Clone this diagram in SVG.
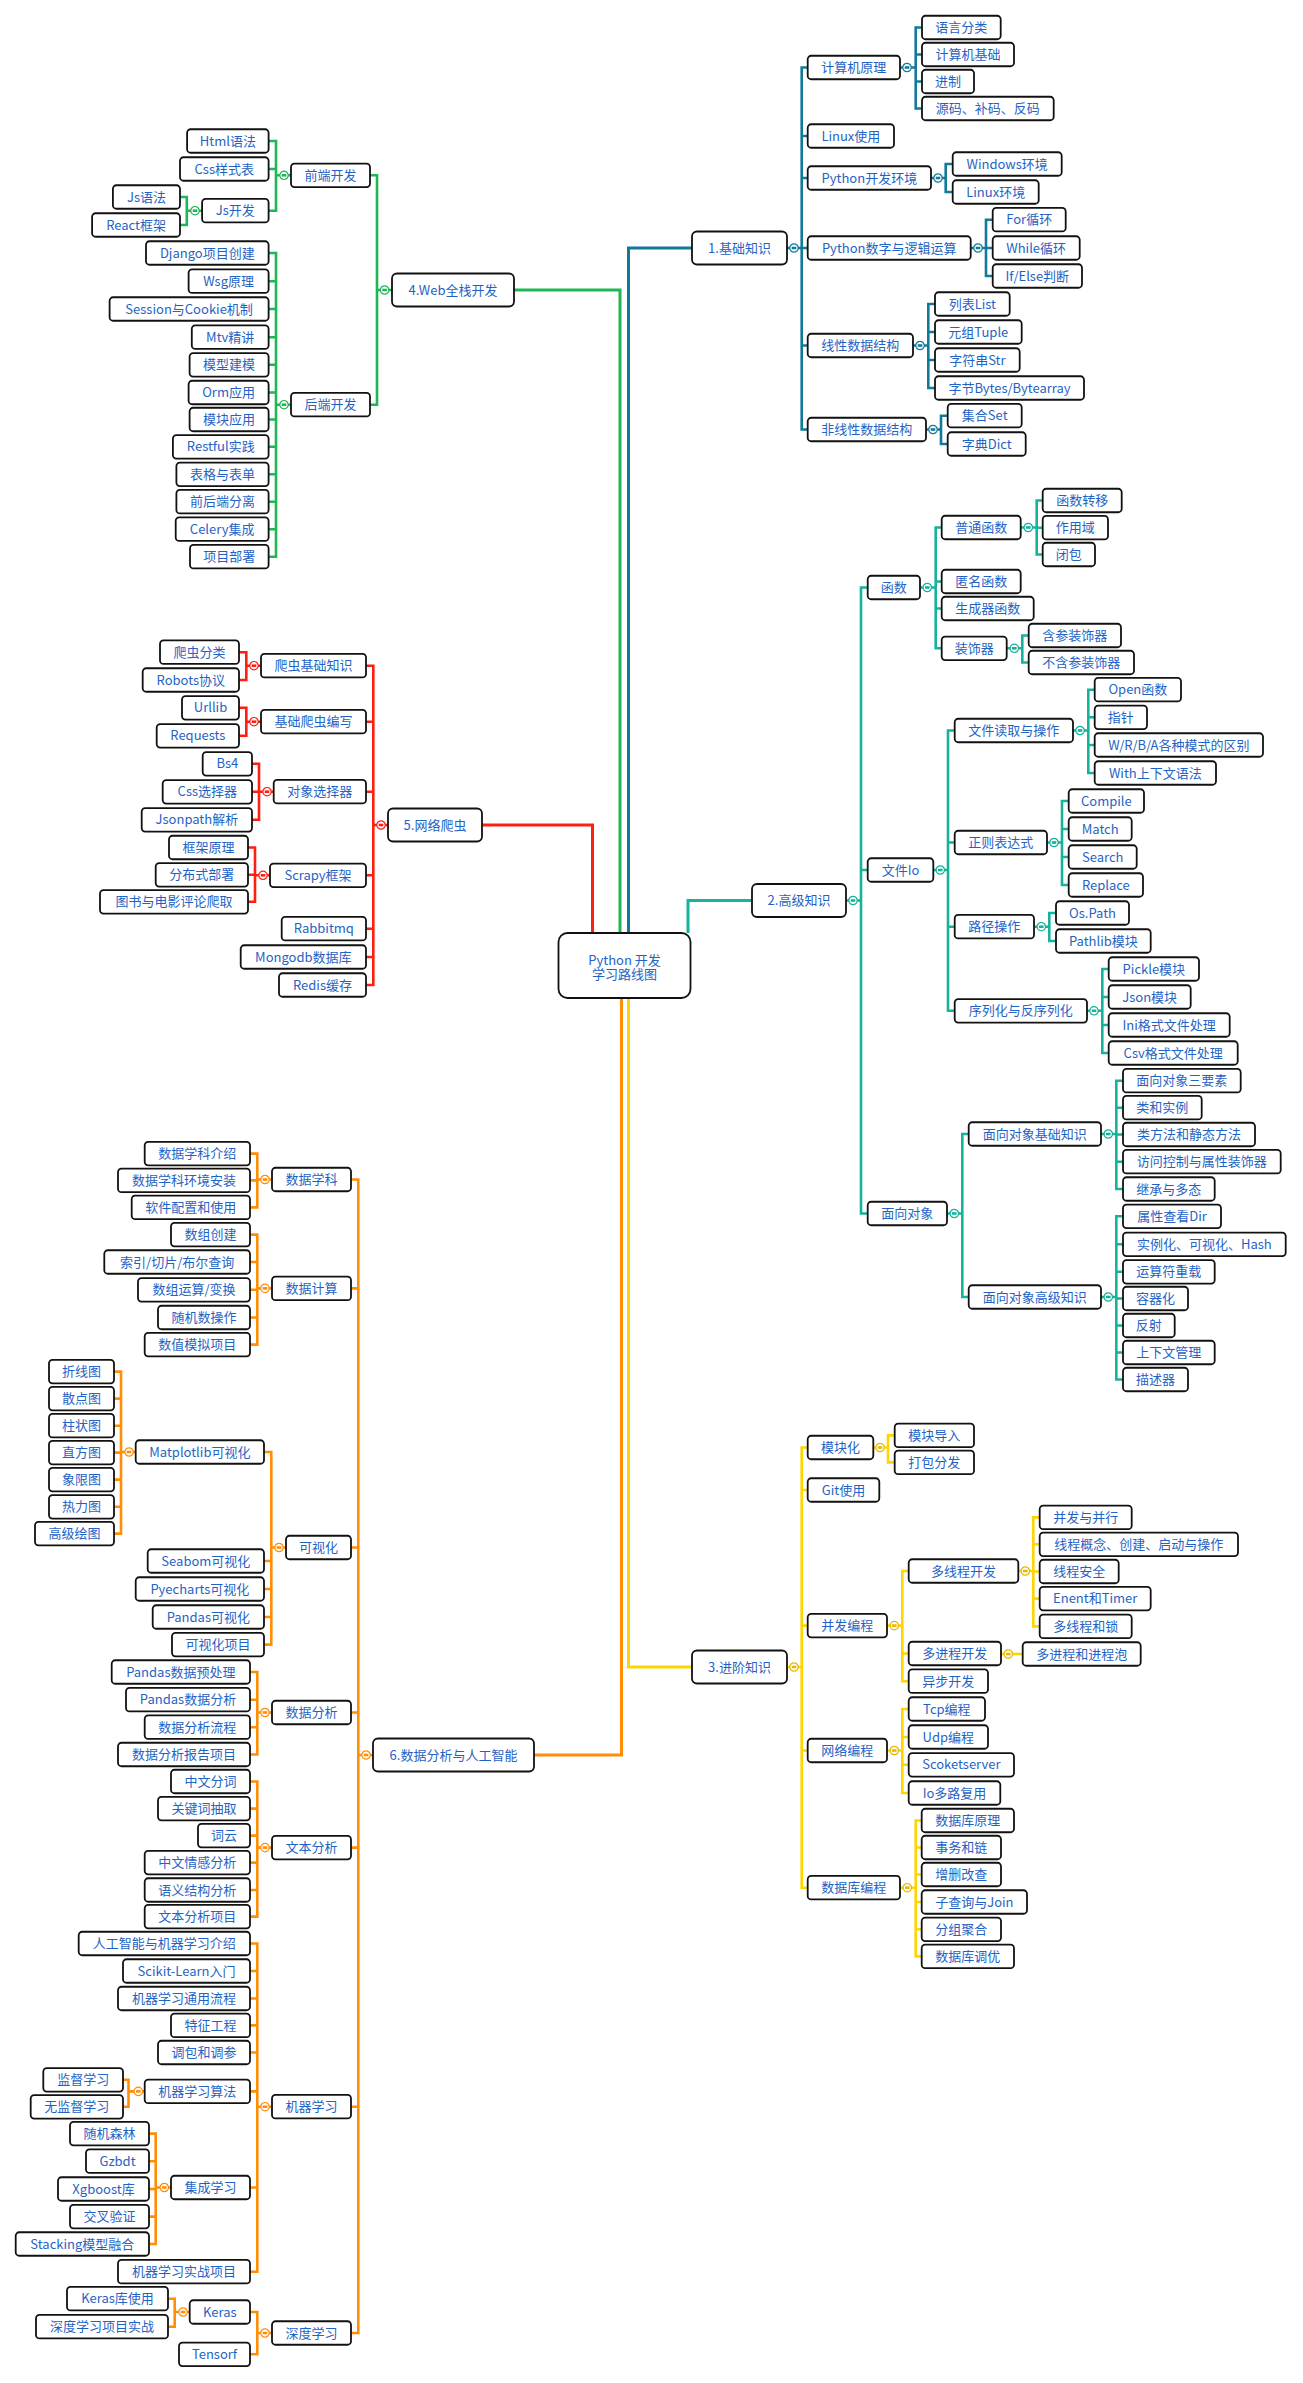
<svg xmlns="http://www.w3.org/2000/svg" xmlns:xlink="http://www.w3.org/1999/xlink" width="1303" height="2383" viewBox="0 0 1303 2383">
<style>
rect{fill:#fff;stroke:#111;stroke-width:1.8}
rect.l{rx:3.5px}
rect.m{rx:5px}
text{font-family:"Noto Sans CJK SC","Noto Sans",sans-serif;font-size:13px;fill:#1f63c4;text-anchor:middle}
path{fill:none;stroke-width:2.6;stroke-linejoin:miter}
path.r{stroke-width:3}
.c1{stroke:#12799a;color:#12799a}
.c2{stroke:#15b29c;color:#15b29c}
.c3{stroke:#ffd500;color:#e6b800}
.c4{stroke:#1db754;color:#1db754}
.c5{stroke:#ff1e12;color:#ff1e12}
.c6{stroke:#ff8e05;color:#ff8e05}
</style>
<defs>
<g id="tog"><circle cx="0" cy="0" r="4.2" fill="#fff" stroke="currentColor" stroke-width="1.2"/><path d="M-2.3 0H2.3" stroke="currentColor" stroke-width="1"/></g>
</defs>
<rect x="0" y="0" width="1303" height="2383" style="fill:#fff;stroke:none"/>
<g id="connectors">
<path class="r c1" d="M628.5 933V248H692"/>
<path class="r c2" d="M688 933V900.5H752"/>
<path class="r c3" d="M628.5 998V1667H692"/>
<path class="r c4" d="M620 933V290H514"/>
<path class="r c5" d="M592.5 933V825H482"/>
<path class="r c6" d="M621.5 998V1755H534"/>
<path class="c1" d="M787 248H801.7M807.7 67.5H801.7V429.5H807.7M801.7 136H807.7M801.7 178H807.7M801.7 248H807.7M801.7 345.5H807.7"/>
<path class="c1" d="M900 67.5H915.7M922 27.5H915.7V108.5H922M915.7 54.5H922M915.7 81.5H922"/>
<path class="c1" d="M931 178H945.7M952.7 164H945.7V192H952.7"/>
<path class="c1" d="M970.7 248H986M992.7 219.7H986V276H992.7M986 248H992.7"/>
<path class="c1" d="M913 345.5H928.3M935 304H928.3V388H935M928.3 332H935M928.3 360H935"/>
<path class="c1" d="M926 429.5H941M947.7 415.7H941V444H947.7"/>
<path class="c2" d="M846 900.5H861M867.7 587.5H861V1213.5H867.7M861 870H867.7"/>
<path class="c2" d="M920 587.5H935.7M941.7 527.5H935.7V648.3H941.7M935.7 581.5H941.7M935.7 608.5H941.7"/>
<path class="c2" d="M1020.7 527.5H1036.7M1042.7 500.5H1036.7V554.5H1042.7M1036.7 527.7H1042.7"/>
<path class="c2" d="M1006.7 648.3H1022.3M1028.7 635.5H1022.3V662.5H1028.7"/>
<path class="c2" d="M933.3 870H948M954.7 730.5H948V1010.8H954.7M948 842.5H954.7M948 926.7H954.7"/>
<path class="c2" d="M1073 730.5H1088.3M1094.7 689.7H1088.3V773H1094.7M1088.3 717.3H1094.7M1088.3 745H1094.7"/>
<path class="c2" d="M1047 842.5H1062M1068.7 801H1062V885H1068.7M1062 829H1068.7M1062 857H1068.7"/>
<path class="c2" d="M1034 926.7H1049.3M1056 913H1049.3V941H1056"/>
<path class="c2" d="M1087 1010.8H1102.3M1108.7 969H1102.3V1053H1108.7M1102.3 997H1108.7M1102.3 1025H1108.7"/>
<path class="c2" d="M947 1213.5H962.3M968.7 1134H962.3V1297H968.7"/>
<path class="c2" d="M1101 1134H1116.3M1123 1080.7H1116.3V1189H1123M1116.3 1107.7H1123M1116.3 1134.5H1123M1116.3 1161.7H1123"/>
<path class="c2" d="M1101 1297H1116.3M1123 1216.3H1116.3V1379.5H1123M1116.3 1244.3H1123M1116.3 1271.8H1123M1116.3 1298.5H1123M1116.3 1325.5H1123M1116.3 1352.5H1123"/>
<path class="c3" d="M787 1667H801.7M807.7 1447.5H801.7V1887.7H807.7M801.7 1490H807.7M801.7 1625.6H807.7M801.7 1750.5H807.7"/>
<path class="c3" d="M873.3 1447.5H888M894.7 1435.4H888V1462.4H894.7"/>
<path class="c3" d="M887 1625.6H902.3M908.7 1571H902.3V1681.2H908.7M902.3 1653.5H908.7"/>
<path class="c3" d="M1018.3 1571H1033.3M1039.7 1517.4H1033.3V1626.4H1039.7M1033.3 1544.3H1039.7M1033.3 1571.5H1039.7M1033.3 1598.6H1039.7"/>
<path class="c3" d="M1001 1654H1022.7"/>
<path class="c3" d="M887 1750.5H902.3M908.7 1709H902.3V1793H908.7M902.3 1737H908.7M902.3 1764.8H908.7"/>
<path class="c3" d="M900 1887.7H915.7M921.7 1820.5H915.7V1956.4H921.7M915.7 1847.5H921.7M915.7 1874.5H921.7M915.7 1902H921.7M915.7 1929.3H921.7"/>
<path class="c4" d="M392 290H377M370 175.3H377V404.7H370"/>
<path class="c4" d="M291 175.3H276M268.6 141H276V210.7H268.6M276 169H268.6"/>
<path class="c4" d="M202.1 210.7H186.8M180 197H186.8V225H180"/>
<path class="c4" d="M291 404.7H276M268.6 253H276V556.7H268.6M276 281.2H268.6M276 309H268.6M276 337.2H268.6M276 364.8H268.6M276 392.5H268.6M276 419.5H268.6M276 446.8H268.6M276 474.3H268.6M276 501.7H268.6M276 529.2H268.6"/>
<path class="c5" d="M388 825H373.3M366 665.7H373.3V985H366M373.3 721.7H366M373.3 791.7H366M373.3 875.3H366M373.3 928.7H366M373.3 957H366"/>
<path class="c5" d="M261 665.7H246.3M239 652.2H246.3V680H239"/>
<path class="c5" d="M261 721.7H246.3M239 707.8H246.3V735.8H239"/>
<path class="c5" d="M273.7 791.7H259M252 763.8H259V819.8H252M259 791.8H252"/>
<path class="c5" d="M270 875.3H255M248 847.5H255V901.8H248M255 874.8H248"/>
<path class="c6" d="M373 1755H358.3M351 1179.5H358.3V2333H351M358.3 1288.4H351M358.3 1547.5H351M358.3 1712.5H351M358.3 1847.6H351M358.3 2106.7H351"/>
<path class="c6" d="M272 1179.5H257.3M250 1153.6H257.3V1207.4H250M257.3 1180.4H250"/>
<path class="c6" d="M272 1288.4H257.3M250 1234.6H257.3V1344.6H250M257.3 1262H250M257.3 1289.8H250M257.3 1317.5H250"/>
<path class="c6" d="M286 1547.5H271.3M264 1452H271.3V1644.6H264M271.3 1561H264M271.3 1589H264M271.3 1617H264"/>
<path class="c6" d="M135.7 1452H121M114 1371.6H121V1533.6H114M121 1398.6H114M121 1425.7H114M121 1452.6H114M121 1479.6H114M121 1506.8H114"/>
<path class="c6" d="M272 1712.5H257.3M250 1672H257.3V1754.5H250M257.3 1699.7H250M257.3 1727.2H250"/>
<path class="c6" d="M272 1847.6H257.3M250 1781.5H257.3V1916.6H250M257.3 1808.6H250M257.3 1835.6H250M257.3 1862.6H250M257.3 1890H250"/>
<path class="c6" d="M272 2106.7H257.3M250 1943.5H257.3V2271.7H250M257.3 1971H250M257.3 1998.5H250M257.3 2025.4H250M257.3 2052.5H250M257.3 2091.4H250M257.3 2187.5H250"/>
<path class="c6" d="M144.7 2091.4H128.5M123 2079.8H128.5V2106.8H123"/>
<path class="c6" d="M171 2187.5H155.7M149 2133.6H155.7V2244H149M155.7 2161.2H149M155.7 2189H149M155.7 2216.6H149"/>
<path class="c6" d="M272 2333H257.3M250 2312H257.3V2354.3H250"/>
<path class="c6" d="M189.7 2312H174.7M168 2298.7H174.7V2326.7H168"/>
</g>
<g id="root"><rect x="558.5" y="933" width="132" height="65" rx="9"/><text x="624.5" y="964.5">Python 开发</text><text x="624.5" y="979">学习路线图</text></g>
<g id="n1"><rect class="m" x="692" y="231.5" width="95" height="33"/><text x="739.5" y="252.5">1.基础知识</text></g>
<g id="n2"><rect class="m" x="752" y="884" width="94" height="33"/><text x="799" y="905">2.高级知识</text></g>
<g id="n3"><rect class="m" x="692" y="1650.5" width="95" height="33"/><text x="739.5" y="1671.5">3.进阶知识</text></g>
<g id="n4"><rect class="m" x="392" y="273.5" width="122" height="33"/><text x="453" y="294.5">4.Web全栈开发</text></g>
<g id="n5"><rect class="m" x="388" y="808.5" width="94" height="33"/><text x="435" y="829.5">5.网络爬虫</text></g>
<g id="n6"><rect class="m" x="373" y="1738.5" width="161" height="33"/><text x="453.5" y="1759.5">6.数据分析与人工智能</text></g>
<g id="b1_1"><rect class="l" x="807.7" y="55.75" width="92.3" height="23.5"/><text x="853.85" y="72">计算机原理</text></g>
<g id="b1_1_1"><rect class="l" x="922" y="15.75" width="78.7" height="23.5"/><text x="961.35" y="32">语言分类</text></g>
<g id="b1_1_2"><rect class="l" x="922" y="42.75" width="92" height="23.5"/><text x="968" y="59">计算机基础</text></g>
<g id="b1_1_3"><rect class="l" x="922" y="69.75" width="52" height="23.5"/><text x="948" y="86">进制</text></g>
<g id="b1_1_4"><rect class="l" x="922" y="96.75" width="131.7" height="23.5"/><text x="987.85" y="113">源码、补码、反码</text></g>
<g id="b1_2"><rect class="l" x="807.7" y="124.25" width="86.3" height="23.5"/><text x="850.85" y="140.5">Linux使用</text></g>
<g id="b1_3"><rect class="l" x="807.7" y="166.25" width="123.3" height="23.5"/><text x="869.35" y="182.5">Python开发环境</text></g>
<g id="b1_3_1"><rect class="l" x="952.7" y="152.25" width="109" height="23.5"/><text x="1007.2" y="168.5">Windows环境</text></g>
<g id="b1_3_2"><rect class="l" x="952.7" y="180.25" width="86" height="23.5"/><text x="995.7" y="196.5">Linux环境</text></g>
<g id="b1_4"><rect class="l" x="807.7" y="236.25" width="163" height="23.5"/><text x="889.2" y="252.5">Python数字与逻辑运算</text></g>
<g id="b1_4_1"><rect class="l" x="992.7" y="207.95" width="73" height="23.5"/><text x="1029.2" y="224.2">For循环</text></g>
<g id="b1_4_2"><rect class="l" x="992.7" y="236.25" width="87" height="23.5"/><text x="1036.2" y="252.5">While循环</text></g>
<g id="b1_4_3"><rect class="l" x="992.7" y="264.25" width="89.3" height="23.5"/><text x="1037.35" y="280.5">If/Else判断</text></g>
<g id="b1_5"><rect class="l" x="807.7" y="333.75" width="105.3" height="23.5"/><text x="860.35" y="350">线性数据结构</text></g>
<g id="b1_5_1"><rect class="l" x="935" y="292.25" width="74.7" height="23.5"/><text x="972.35" y="308.5">列表List</text></g>
<g id="b1_5_2"><rect class="l" x="935" y="320.25" width="86.7" height="23.5"/><text x="978.35" y="336.5">元组Tuple</text></g>
<g id="b1_5_3"><rect class="l" x="935" y="348.25" width="84.7" height="23.5"/><text x="977.35" y="364.5">字符串Str</text></g>
<g id="b1_5_4"><rect class="l" x="935" y="376.25" width="149" height="23.5"/><text x="1009.5" y="392.5">字节Bytes/Bytearray</text></g>
<g id="b1_6"><rect class="l" x="807.7" y="417.75" width="118.3" height="23.5"/><text x="866.85" y="434">非线性数据结构</text></g>
<g id="b1_6_1"><rect class="l" x="947.7" y="403.95" width="74" height="23.5"/><text x="984.7" y="420.2">集合Set</text></g>
<g id="b1_6_2"><rect class="l" x="947.7" y="432.25" width="78" height="23.5"/><text x="986.7" y="448.5">字典Dict</text></g>
<g id="b2_1"><rect class="l" x="867.7" y="575.75" width="52.3" height="23.5"/><text x="893.85" y="592">函数</text></g>
<g id="b2_1_1"><rect class="l" x="941.7" y="515.75" width="79" height="23.5"/><text x="981.2" y="532">普通函数</text></g>
<g id="b2_1_1_1"><rect class="l" x="1042.7" y="488.75" width="79" height="23.5"/><text x="1082.2" y="505">函数转移</text></g>
<g id="b2_1_1_2"><rect class="l" x="1042.7" y="515.95" width="65.3" height="23.5"/><text x="1075.35" y="532.2">作用域</text></g>
<g id="b2_1_1_3"><rect class="l" x="1042.7" y="542.75" width="52.3" height="23.5"/><text x="1068.85" y="559">闭包</text></g>
<g id="b2_1_2"><rect class="l" x="941.7" y="569.75" width="79" height="23.5"/><text x="981.2" y="586">匿名函数</text></g>
<g id="b2_1_3"><rect class="l" x="941.7" y="596.75" width="92" height="23.5"/><text x="987.7" y="613">生成器函数</text></g>
<g id="b2_1_4"><rect class="l" x="941.7" y="636.55" width="65" height="23.5"/><text x="974.2" y="652.8">装饰器</text></g>
<g id="b2_1_4_1"><rect class="l" x="1028.7" y="623.75" width="92.3" height="23.5"/><text x="1074.85" y="640">含参装饰器</text></g>
<g id="b2_1_4_2"><rect class="l" x="1028.7" y="650.75" width="105.3" height="23.5"/><text x="1081.35" y="667">不含参装饰器</text></g>
<g id="b2_2"><rect class="l" x="867.7" y="858.25" width="65.6" height="23.5"/><text x="900.5" y="874.5">文件Io</text></g>
<g id="b2_2_1"><rect class="l" x="954.7" y="718.75" width="118.3" height="23.5"/><text x="1013.85" y="735">文件读取与操作</text></g>
<g id="b2_2_1_1"><rect class="l" x="1094.7" y="677.95" width="86.3" height="23.5"/><text x="1137.85" y="694.2">Open函数</text></g>
<g id="b2_2_1_2"><rect class="l" x="1094.7" y="705.55" width="52.3" height="23.5"/><text x="1120.85" y="721.8">指针</text></g>
<g id="b2_2_1_3"><rect class="l" x="1094.7" y="733.25" width="168.3" height="23.5"/><text x="1178.85" y="749.5">W/R/B/A各种模式的区别</text></g>
<g id="b2_2_1_4"><rect class="l" x="1094.7" y="761.25" width="121.3" height="23.5"/><text x="1155.35" y="777.5">With上下文语法</text></g>
<g id="b2_2_2"><rect class="l" x="954.7" y="830.75" width="92.3" height="23.5"/><text x="1000.85" y="847">正则表达式</text></g>
<g id="b2_2_2_1"><rect class="l" x="1068.7" y="789.25" width="75.3" height="23.5"/><text x="1106.35" y="805.5">Compile</text></g>
<g id="b2_2_2_2"><rect class="l" x="1068.7" y="817.25" width="63" height="23.5"/><text x="1100.2" y="833.5">Match</text></g>
<g id="b2_2_2_3"><rect class="l" x="1068.7" y="845.25" width="68" height="23.5"/><text x="1102.7" y="861.5">Search</text></g>
<g id="b2_2_2_4"><rect class="l" x="1068.7" y="873.25" width="74.3" height="23.5"/><text x="1105.85" y="889.5">Replace</text></g>
<g id="b2_2_3"><rect class="l" x="954.7" y="914.95" width="79.3" height="23.5"/><text x="994.35" y="931.2">路径操作</text></g>
<g id="b2_2_3_1"><rect class="l" x="1056" y="901.25" width="73" height="23.5"/><text x="1092.5" y="917.5">Os.Path</text></g>
<g id="b2_2_3_2"><rect class="l" x="1056" y="929.25" width="94.7" height="23.5"/><text x="1103.35" y="945.5">Pathlib模块</text></g>
<g id="b2_2_4"><rect class="l" x="954.7" y="999.05" width="132.3" height="23.5"/><text x="1020.85" y="1015.3">序列化与反序列化</text></g>
<g id="b2_2_4_1"><rect class="l" x="1108.7" y="957.25" width="90.3" height="23.5"/><text x="1153.85" y="973.5">Pickle模块</text></g>
<g id="b2_2_4_2"><rect class="l" x="1108.7" y="985.25" width="82" height="23.5"/><text x="1149.7" y="1001.5">Json模块</text></g>
<g id="b2_2_4_3"><rect class="l" x="1108.7" y="1013.25" width="121" height="23.5"/><text x="1169.2" y="1029.5">Ini格式文件处理</text></g>
<g id="b2_2_4_4"><rect class="l" x="1108.7" y="1041.25" width="129" height="23.5"/><text x="1173.2" y="1057.5">Csv格式文件处理</text></g>
<g id="b2_3"><rect class="l" x="867.7" y="1201.75" width="79.3" height="23.5"/><text x="907.35" y="1218">面向对象</text></g>
<g id="b2_3_1"><rect class="l" x="968.7" y="1122.25" width="132.3" height="23.5"/><text x="1034.85" y="1138.5">面向对象基础知识</text></g>
<g id="b2_3_1_1"><rect class="l" x="1123" y="1068.95" width="117.7" height="23.5"/><text x="1181.85" y="1085.2">面向对象三要素</text></g>
<g id="b2_3_1_2"><rect class="l" x="1123" y="1095.95" width="78.7" height="23.5"/><text x="1162.35" y="1112.2">类和实例</text></g>
<g id="b2_3_1_3"><rect class="l" x="1123" y="1122.75" width="132" height="23.5"/><text x="1189" y="1139">类方法和静态方法</text></g>
<g id="b2_3_1_4"><rect class="l" x="1123" y="1149.95" width="157.7" height="23.5"/><text x="1201.85" y="1166.2">访问控制与属性装饰器</text></g>
<g id="b2_3_1_5"><rect class="l" x="1123" y="1177.25" width="91.7" height="23.5"/><text x="1168.85" y="1193.5">继承与多态</text></g>
<g id="b2_3_2"><rect class="l" x="968.7" y="1285.25" width="132.3" height="23.5"/><text x="1034.85" y="1301.5">面向对象高级知识</text></g>
<g id="b2_3_2_1"><rect class="l" x="1123" y="1204.55" width="98" height="23.5"/><text x="1172" y="1220.8">属性查看Dir</text></g>
<g id="b2_3_2_2"><rect class="l" x="1123" y="1232.55" width="162.7" height="23.5"/><text x="1204.35" y="1248.8">实例化、可视化、Hash</text></g>
<g id="b2_3_2_3"><rect class="l" x="1123" y="1260.05" width="91.7" height="23.5"/><text x="1168.85" y="1276.3">运算符重载</text></g>
<g id="b2_3_2_4"><rect class="l" x="1123" y="1286.75" width="65" height="23.5"/><text x="1155.5" y="1303">容器化</text></g>
<g id="b2_3_2_5"><rect class="l" x="1123" y="1313.75" width="51.7" height="23.5"/><text x="1148.85" y="1330">反射</text></g>
<g id="b2_3_2_6"><rect class="l" x="1123" y="1340.75" width="91.7" height="23.5"/><text x="1168.85" y="1357">上下文管理</text></g>
<g id="b2_3_2_7"><rect class="l" x="1123" y="1367.75" width="65" height="23.5"/><text x="1155.5" y="1384">描述器</text></g>
<g id="b3_1"><rect class="l" x="807.7" y="1435.75" width="65.6" height="23.5"/><text x="840.5" y="1452">模块化</text></g>
<g id="b3_1_1"><rect class="l" x="894.7" y="1423.65" width="79.3" height="23.5"/><text x="934.35" y="1439.9">模块导入</text></g>
<g id="b3_1_2"><rect class="l" x="894.7" y="1450.65" width="79.3" height="23.5"/><text x="934.35" y="1466.9">打包分发</text></g>
<g id="b3_2"><rect class="l" x="807.7" y="1478.25" width="71.6" height="23.5"/><text x="843.5" y="1494.5">Git使用</text></g>
<g id="b3_3"><rect class="l" x="807.7" y="1613.85" width="79.3" height="23.5"/><text x="847.35" y="1630.1">并发编程</text></g>
<g id="b3_3_1"><rect class="l" x="908.7" y="1559.25" width="109.6" height="23.5"/><text x="963.5" y="1575.5">多线程开发</text></g>
<g id="b3_3_1_1"><rect class="l" x="1039.7" y="1505.65" width="92" height="23.5"/><text x="1085.7" y="1521.9">并发与并行</text></g>
<g id="b3_3_1_2"><rect class="l" x="1039.7" y="1532.55" width="198.3" height="23.5"/><text x="1138.85" y="1548.8">线程概念、创建、启动与操作</text></g>
<g id="b3_3_1_3"><rect class="l" x="1039.7" y="1559.75" width="79" height="23.5"/><text x="1079.2" y="1576">线程安全</text></g>
<g id="b3_3_1_4"><rect class="l" x="1039.7" y="1586.85" width="111" height="23.5"/><text x="1095.2" y="1603.1">Enent和Timer</text></g>
<g id="b3_3_1_5"><rect class="l" x="1039.7" y="1614.65" width="92" height="23.5"/><text x="1085.7" y="1630.9">多线程和锁</text></g>
<g id="b3_3_2"><rect class="l" x="908.7" y="1641.75" width="92.3" height="23.5"/><text x="954.85" y="1658">多进程开发</text></g>
<g id="b3_3_2_1"><rect class="l" x="1022.7" y="1642.25" width="118" height="23.5"/><text x="1081.7" y="1658.5">多进程和进程泡</text></g>
<g id="b3_3_3"><rect class="l" x="908.7" y="1669.45" width="79.3" height="23.5"/><text x="948.35" y="1685.7">异步开发</text></g>
<g id="b3_4"><rect class="l" x="807.7" y="1738.75" width="79.3" height="23.5"/><text x="847.35" y="1755">网络编程</text></g>
<g id="b3_4_1"><rect class="l" x="908.7" y="1697.25" width="76.3" height="23.5"/><text x="946.85" y="1713.5">Tcp编程</text></g>
<g id="b3_4_2"><rect class="l" x="908.7" y="1725.25" width="79.3" height="23.5"/><text x="948.35" y="1741.5">Udp编程</text></g>
<g id="b3_4_3"><rect class="l" x="908.7" y="1753.05" width="105.3" height="23.5"/><text x="961.35" y="1769.3">Scoketserver</text></g>
<g id="b3_4_4"><rect class="l" x="908.7" y="1781.25" width="91.6" height="23.5"/><text x="954.5" y="1797.5">Io多路复用</text></g>
<g id="b3_5"><rect class="l" x="807.7" y="1875.95" width="92.3" height="23.5"/><text x="853.85" y="1892.2">数据库编程</text></g>
<g id="b3_5_1"><rect class="l" x="921.7" y="1808.75" width="92.3" height="23.5"/><text x="967.85" y="1825">数据库原理</text></g>
<g id="b3_5_2"><rect class="l" x="921.7" y="1835.75" width="79.3" height="23.5"/><text x="961.35" y="1852">事务和链</text></g>
<g id="b3_5_3"><rect class="l" x="921.7" y="1862.75" width="79.3" height="23.5"/><text x="961.35" y="1879">增删改查</text></g>
<g id="b3_5_4"><rect class="l" x="921.7" y="1890.25" width="105.3" height="23.5"/><text x="974.35" y="1906.5">子查询与Join</text></g>
<g id="b3_5_5"><rect class="l" x="921.7" y="1917.55" width="79.3" height="23.5"/><text x="961.35" y="1933.8">分组聚合</text></g>
<g id="b3_5_6"><rect class="l" x="921.7" y="1944.65" width="92.3" height="23.5"/><text x="967.85" y="1960.9">数据库调优</text></g>
<g id="b4_1"><rect class="l" x="291" y="163.55" width="79" height="23.5"/><text x="330.5" y="179.8">前端开发</text></g>
<g id="b4_1_1"><rect class="l" x="187.1" y="129.25" width="81.5" height="23.5"/><text x="227.85" y="145.5">Html语法</text></g>
<g id="b4_1_2"><rect class="l" x="180" y="157.25" width="88.6" height="23.5"/><text x="224.3" y="173.5">Css样式表</text></g>
<g id="b4_1_3"><rect class="l" x="202.1" y="198.95" width="66.5" height="23.5"/><text x="235.35" y="215.2">Js开发</text></g>
<g id="b4_1_3_1"><rect class="l" x="112.9" y="185.25" width="67.1" height="23.5"/><text x="146.45" y="201.5">Js语法</text></g>
<g id="b4_1_3_2"><rect class="l" x="92.1" y="213.25" width="87.9" height="23.5"/><text x="136.05" y="229.5">React框架</text></g>
<g id="b4_2"><rect class="l" x="291" y="392.95" width="79" height="23.5"/><text x="330.5" y="409.2">后端开发</text></g>
<g id="b4_2_1"><rect class="l" x="146" y="241.25" width="122.6" height="23.5"/><text x="207.3" y="257.5">Django项目创建</text></g>
<g id="b4_2_2"><rect class="l" x="188.6" y="269.45" width="80" height="23.5"/><text x="228.6" y="285.7">Wsg原理</text></g>
<g id="b4_2_3"><rect class="l" x="109.6" y="297.25" width="159" height="23.5"/><text x="189.1" y="313.5">Session与Cookie机制</text></g>
<g id="b4_2_4"><rect class="l" x="191.8" y="325.45" width="76.8" height="23.5"/><text x="230.2" y="341.7">Mtv精讲</text></g>
<g id="b4_2_5"><rect class="l" x="189.6" y="353.05" width="79" height="23.5"/><text x="229.1" y="369.3">模型建模</text></g>
<g id="b4_2_6"><rect class="l" x="188.6" y="380.75" width="80" height="23.5"/><text x="228.6" y="397">Orm应用</text></g>
<g id="b4_2_7"><rect class="l" x="189.6" y="407.75" width="79" height="23.5"/><text x="229.1" y="424">模块应用</text></g>
<g id="b4_2_8"><rect class="l" x="172.9" y="435.05" width="95.7" height="23.5"/><text x="220.75" y="451.3">Restful实践</text></g>
<g id="b4_2_9"><rect class="l" x="176.4" y="462.55" width="92.2" height="23.5"/><text x="222.5" y="478.8">表格与表单</text></g>
<g id="b4_2_10"><rect class="l" x="176.4" y="489.95" width="92.2" height="23.5"/><text x="222.5" y="506.2">前后端分离</text></g>
<g id="b4_2_11"><rect class="l" x="175.7" y="517.45" width="92.9" height="23.5"/><text x="222.15" y="533.7">Celery集成</text></g>
<g id="b4_2_12"><rect class="l" x="190" y="544.95" width="78.6" height="23.5"/><text x="229.3" y="561.2">项目部署</text></g>
<g id="b5_1"><rect class="l" x="261" y="653.95" width="105" height="23.5"/><text x="313.5" y="670.2">爬虫基础知识</text></g>
<g id="b5_1_1"><rect class="l" x="160" y="640.45" width="79" height="23.5"/><text x="199.5" y="656.7">爬虫分类</text></g>
<g id="b5_1_2"><rect class="l" x="142.7" y="668.25" width="96.3" height="23.5"/><text x="190.85" y="684.5">Robots协议</text></g>
<g id="b5_2"><rect class="l" x="261" y="709.95" width="105" height="23.5"/><text x="313.5" y="726.2">基础爬虫编写</text></g>
<g id="b5_2_1"><rect class="l" x="182" y="696.05" width="57" height="23.5"/><text x="210.5" y="712.3">Urllib</text></g>
<g id="b5_2_2"><rect class="l" x="156.7" y="724.05" width="82.3" height="23.5"/><text x="197.85" y="740.3">Requests</text></g>
<g id="b5_3"><rect class="l" x="273.7" y="779.95" width="92.3" height="23.5"/><text x="319.85" y="796.2">对象选择器</text></g>
<g id="b5_3_1"><rect class="l" x="202.7" y="752.05" width="49.3" height="23.5"/><text x="227.35" y="768.3">Bs4</text></g>
<g id="b5_3_2"><rect class="l" x="162.7" y="780.05" width="89.3" height="23.5"/><text x="207.35" y="796.3">Css选择器</text></g>
<g id="b5_3_3"><rect class="l" x="141.7" y="808.05" width="110.3" height="23.5"/><text x="196.85" y="824.3">Jsonpath解析</text></g>
<g id="b5_4"><rect class="l" x="270" y="863.55" width="96" height="23.5"/><text x="318" y="879.8">Scrapy框架</text></g>
<g id="b5_4_1"><rect class="l" x="169" y="835.75" width="79" height="23.5"/><text x="208.5" y="852">框架原理</text></g>
<g id="b5_4_2"><rect class="l" x="155.7" y="863.05" width="92.3" height="23.5"/><text x="201.85" y="879.3">分布式部署</text></g>
<g id="b5_4_3"><rect class="l" x="100" y="890.05" width="148" height="23.5"/><text x="174" y="906.3">图书与电影评论爬取</text></g>
<g id="b5_5"><rect class="l" x="281.7" y="916.95" width="84.3" height="23.5"/><text x="323.85" y="933.2">Rabbitmq</text></g>
<g id="b5_6"><rect class="l" x="240.7" y="945.25" width="125.3" height="23.5"/><text x="303.35" y="961.5">Mongodb数据库</text></g>
<g id="b5_7"><rect class="l" x="279" y="973.25" width="87" height="23.5"/><text x="322.5" y="989.5">Redis缓存</text></g>
<g id="b6_1"><rect class="l" x="272" y="1167.75" width="79" height="23.5"/><text x="311.5" y="1184">数据学科</text></g>
<g id="b6_1_1"><rect class="l" x="144.7" y="1141.85" width="105.3" height="23.5"/><text x="197.35" y="1158.1">数据学科介绍</text></g>
<g id="b6_1_2"><rect class="l" x="118" y="1168.65" width="132" height="23.5"/><text x="184" y="1184.9">数据学科环境安装</text></g>
<g id="b6_1_3"><rect class="l" x="131.7" y="1195.65" width="118.3" height="23.5"/><text x="190.85" y="1211.9">软件配置和使用</text></g>
<g id="b6_2"><rect class="l" x="272" y="1276.65" width="79" height="23.5"/><text x="311.5" y="1292.9">数据计算</text></g>
<g id="b6_2_1"><rect class="l" x="171" y="1222.85" width="79" height="23.5"/><text x="210.5" y="1239.1">数组创建</text></g>
<g id="b6_2_2"><rect class="l" x="104.3" y="1250.25" width="145.7" height="23.5"/><text x="177.15" y="1266.5">索引/切片/布尔查询</text></g>
<g id="b6_2_3"><rect class="l" x="138" y="1278.05" width="112" height="23.5"/><text x="194" y="1294.3">数组运算/变换</text></g>
<g id="b6_2_4"><rect class="l" x="158" y="1305.75" width="92" height="23.5"/><text x="204" y="1322">随机数操作</text></g>
<g id="b6_2_5"><rect class="l" x="144.7" y="1332.85" width="105.3" height="23.5"/><text x="197.35" y="1349.1">数值模拟项目</text></g>
<g id="b6_3"><rect class="l" x="286" y="1535.75" width="65" height="23.5"/><text x="318.5" y="1552">可视化</text></g>
<g id="b6_3_1"><rect class="l" x="135.7" y="1440.25" width="128.3" height="23.5"/><text x="199.85" y="1456.5">Matplotlib可视化</text></g>
<g id="b6_3_1_1"><rect class="l" x="49" y="1359.85" width="65" height="23.5"/><text x="81.5" y="1376.1">折线图</text></g>
<g id="b6_3_1_2"><rect class="l" x="49" y="1386.85" width="65" height="23.5"/><text x="81.5" y="1403.1">散点图</text></g>
<g id="b6_3_1_3"><rect class="l" x="49" y="1413.95" width="65" height="23.5"/><text x="81.5" y="1430.2">柱状图</text></g>
<g id="b6_3_1_4"><rect class="l" x="49" y="1440.85" width="65" height="23.5"/><text x="81.5" y="1457.1">直方图</text></g>
<g id="b6_3_1_5"><rect class="l" x="49" y="1467.85" width="65" height="23.5"/><text x="81.5" y="1484.1">象限图</text></g>
<g id="b6_3_1_6"><rect class="l" x="49" y="1495.05" width="65" height="23.5"/><text x="81.5" y="1511.3">热力图</text></g>
<g id="b6_3_1_7"><rect class="l" x="35" y="1521.85" width="79" height="23.5"/><text x="74.5" y="1538.1">高级绘图</text></g>
<g id="b6_3_2"><rect class="l" x="147.7" y="1549.25" width="116.3" height="23.5"/><text x="205.85" y="1565.5">Seabom可视化</text></g>
<g id="b6_3_3"><rect class="l" x="135.7" y="1577.25" width="128.3" height="23.5"/><text x="199.85" y="1593.5">Pyecharts可视化</text></g>
<g id="b6_3_4"><rect class="l" x="152.7" y="1605.25" width="111.3" height="23.5"/><text x="208.35" y="1621.5">Pandas可视化</text></g>
<g id="b6_3_5"><rect class="l" x="172" y="1632.85" width="92" height="23.5"/><text x="218" y="1649.1">可视化项目</text></g>
<g id="b6_4"><rect class="l" x="272" y="1700.75" width="79" height="23.5"/><text x="311.5" y="1717">数据分析</text></g>
<g id="b6_4_1"><rect class="l" x="111.7" y="1660.25" width="138.3" height="23.5"/><text x="180.85" y="1676.5">Pandas数据预处理</text></g>
<g id="b6_4_2"><rect class="l" x="126" y="1687.95" width="124" height="23.5"/><text x="188" y="1704.2">Pandas数据分析</text></g>
<g id="b6_4_3"><rect class="l" x="144.7" y="1715.45" width="105.3" height="23.5"/><text x="197.35" y="1731.7">数据分析流程</text></g>
<g id="b6_4_4"><rect class="l" x="118" y="1742.75" width="132" height="23.5"/><text x="184" y="1759">数据分析报告项目</text></g>
<g id="b6_5"><rect class="l" x="272" y="1835.85" width="79" height="23.5"/><text x="311.5" y="1852.1">文本分析</text></g>
<g id="b6_5_1"><rect class="l" x="171" y="1769.75" width="79" height="23.5"/><text x="210.5" y="1786">中文分词</text></g>
<g id="b6_5_2"><rect class="l" x="158" y="1796.85" width="92" height="23.5"/><text x="204" y="1813.1">关键词抽取</text></g>
<g id="b6_5_3"><rect class="l" x="198" y="1823.85" width="52" height="23.5"/><text x="224" y="1840.1">词云</text></g>
<g id="b6_5_4"><rect class="l" x="144.7" y="1850.85" width="105.3" height="23.5"/><text x="197.35" y="1867.1">中文情感分析</text></g>
<g id="b6_5_5"><rect class="l" x="144.7" y="1878.25" width="105.3" height="23.5"/><text x="197.35" y="1894.5">语义结构分析</text></g>
<g id="b6_5_6"><rect class="l" x="144.7" y="1904.85" width="105.3" height="23.5"/><text x="197.35" y="1921.1">文本分析项目</text></g>
<g id="b6_6"><rect class="l" x="272" y="2094.95" width="79" height="23.5"/><text x="311.5" y="2111.2">机器学习</text></g>
<g id="b6_6_1"><rect class="l" x="78.7" y="1931.75" width="171.3" height="23.5"/><text x="164.35" y="1948">人工智能与机器学习介绍</text></g>
<g id="b6_6_2"><rect class="l" x="123" y="1959.25" width="127" height="23.5"/><text x="186.5" y="1975.5">Scikit-Learn入门</text></g>
<g id="b6_6_3"><rect class="l" x="118" y="1986.75" width="132" height="23.5"/><text x="184" y="2003">机器学习通用流程</text></g>
<g id="b6_6_4"><rect class="l" x="171" y="2013.65" width="79" height="23.5"/><text x="210.5" y="2029.9">特征工程</text></g>
<g id="b6_6_5"><rect class="l" x="158" y="2040.75" width="92" height="23.5"/><text x="204" y="2057">调包和调参</text></g>
<g id="b6_6_6"><rect class="l" x="144.7" y="2079.65" width="105.3" height="23.5"/><text x="197.35" y="2095.9">机器学习算法</text></g>
<g id="b6_6_6_1"><rect class="l" x="43.3" y="2068.05" width="79.7" height="23.5"/><text x="83.15" y="2084.3">监督学习</text></g>
<g id="b6_6_6_2"><rect class="l" x="30.7" y="2095.05" width="92.3" height="23.5"/><text x="76.85" y="2111.3">无监督学习</text></g>
<g id="b6_6_7"><rect class="l" x="171" y="2175.75" width="79" height="23.5"/><text x="210.5" y="2192">集成学习</text></g>
<g id="b6_6_7_1"><rect class="l" x="70" y="2121.85" width="79" height="23.5"/><text x="109.5" y="2138.1">随机森林</text></g>
<g id="b6_6_7_2"><rect class="l" x="86" y="2149.45" width="63" height="23.5"/><text x="117.5" y="2165.7">Gzbdt</text></g>
<g id="b6_6_7_3"><rect class="l" x="58" y="2177.25" width="91" height="23.5"/><text x="103.5" y="2193.5">Xgboost库</text></g>
<g id="b6_6_7_4"><rect class="l" x="70" y="2204.85" width="79" height="23.5"/><text x="109.5" y="2221.1">交叉验证</text></g>
<g id="b6_6_7_5"><rect class="l" x="15.7" y="2232.25" width="133.3" height="23.5"/><text x="82.35" y="2248.5">Stacking模型融合</text></g>
<g id="b6_6_8"><rect class="l" x="118" y="2259.95" width="132" height="23.5"/><text x="184" y="2276.2">机器学习实战项目</text></g>
<g id="b6_7"><rect class="l" x="272" y="2321.25" width="79" height="23.5"/><text x="311.5" y="2337.5">深度学习</text></g>
<g id="b6_7_1"><rect class="l" x="189.7" y="2300.25" width="60.3" height="23.5"/><text x="219.85" y="2316.5">Keras</text></g>
<g id="b6_7_1_1"><rect class="l" x="67" y="2286.95" width="101" height="23.5"/><text x="117.5" y="2303.2">Keras库使用</text></g>
<g id="b6_7_1_2"><rect class="l" x="36" y="2314.95" width="132" height="23.5"/><text x="102" y="2331.2">深度学习项目实战</text></g>
<g id="b6_7_2"><rect class="l" x="179" y="2342.55" width="71" height="23.5"/><text x="214.5" y="2358.8">Tensorf</text></g>
<g id="toggles">
<use href="#tog" x="794" y="248" class="c1"/>
<use href="#tog" x="907" y="67.5" class="c1"/>
<use href="#tog" x="938" y="178" class="c1"/>
<use href="#tog" x="978" y="248" class="c1"/>
<use href="#tog" x="920" y="345.5" class="c1"/>
<use href="#tog" x="933" y="429.5" class="c1"/>
<use href="#tog" x="853" y="900.5" class="c2"/>
<use href="#tog" x="927.3" y="587.5" class="c2"/>
<use href="#tog" x="1028.3" y="527.5" class="c2"/>
<use href="#tog" x="1014.3" y="648.3" class="c2"/>
<use href="#tog" x="940.3" y="870" class="c2"/>
<use href="#tog" x="1080" y="730.5" class="c2"/>
<use href="#tog" x="1054" y="842.5" class="c2"/>
<use href="#tog" x="1041.3" y="926.7" class="c2"/>
<use href="#tog" x="1094" y="1010.8" class="c2"/>
<use href="#tog" x="954.3" y="1213.5" class="c2"/>
<use href="#tog" x="1108.3" y="1134" class="c2"/>
<use href="#tog" x="1108.3" y="1297" class="c2"/>
<use href="#tog" x="794" y="1667" class="c3"/>
<use href="#tog" x="880" y="1447.5" class="c3"/>
<use href="#tog" x="894.3" y="1625.6" class="c3"/>
<use href="#tog" x="1025.3" y="1571" class="c3"/>
<use href="#tog" x="1008.3" y="1654" class="c3"/>
<use href="#tog" x="894.3" y="1750.5" class="c3"/>
<use href="#tog" x="907.3" y="1887.7" class="c3"/>
<use href="#tog" x="384.6" y="290" class="c4"/>
<use href="#tog" x="284" y="175.3" class="c4"/>
<use href="#tog" x="195" y="210.7" class="c4"/>
<use href="#tog" x="284" y="404.7" class="c4"/>
<use href="#tog" x="381" y="825" class="c5"/>
<use href="#tog" x="254" y="665.7" class="c5"/>
<use href="#tog" x="254" y="721.7" class="c5"/>
<use href="#tog" x="267" y="791.7" class="c5"/>
<use href="#tog" x="263" y="875.3" class="c5"/>
<use href="#tog" x="366" y="1755" class="c6"/>
<use href="#tog" x="265" y="1179.5" class="c6"/>
<use href="#tog" x="265" y="1288.4" class="c6"/>
<use href="#tog" x="279" y="1547.5" class="c6"/>
<use href="#tog" x="129" y="1452" class="c6"/>
<use href="#tog" x="265" y="1712.5" class="c6"/>
<use href="#tog" x="265" y="1847.6" class="c6"/>
<use href="#tog" x="265" y="2106.7" class="c6"/>
<use href="#tog" x="138.3" y="2091.4" class="c6"/>
<use href="#tog" x="164.3" y="2187.5" class="c6"/>
<use href="#tog" x="265" y="2333" class="c6"/>
<use href="#tog" x="183" y="2312" class="c6"/>
</g>
</svg>
